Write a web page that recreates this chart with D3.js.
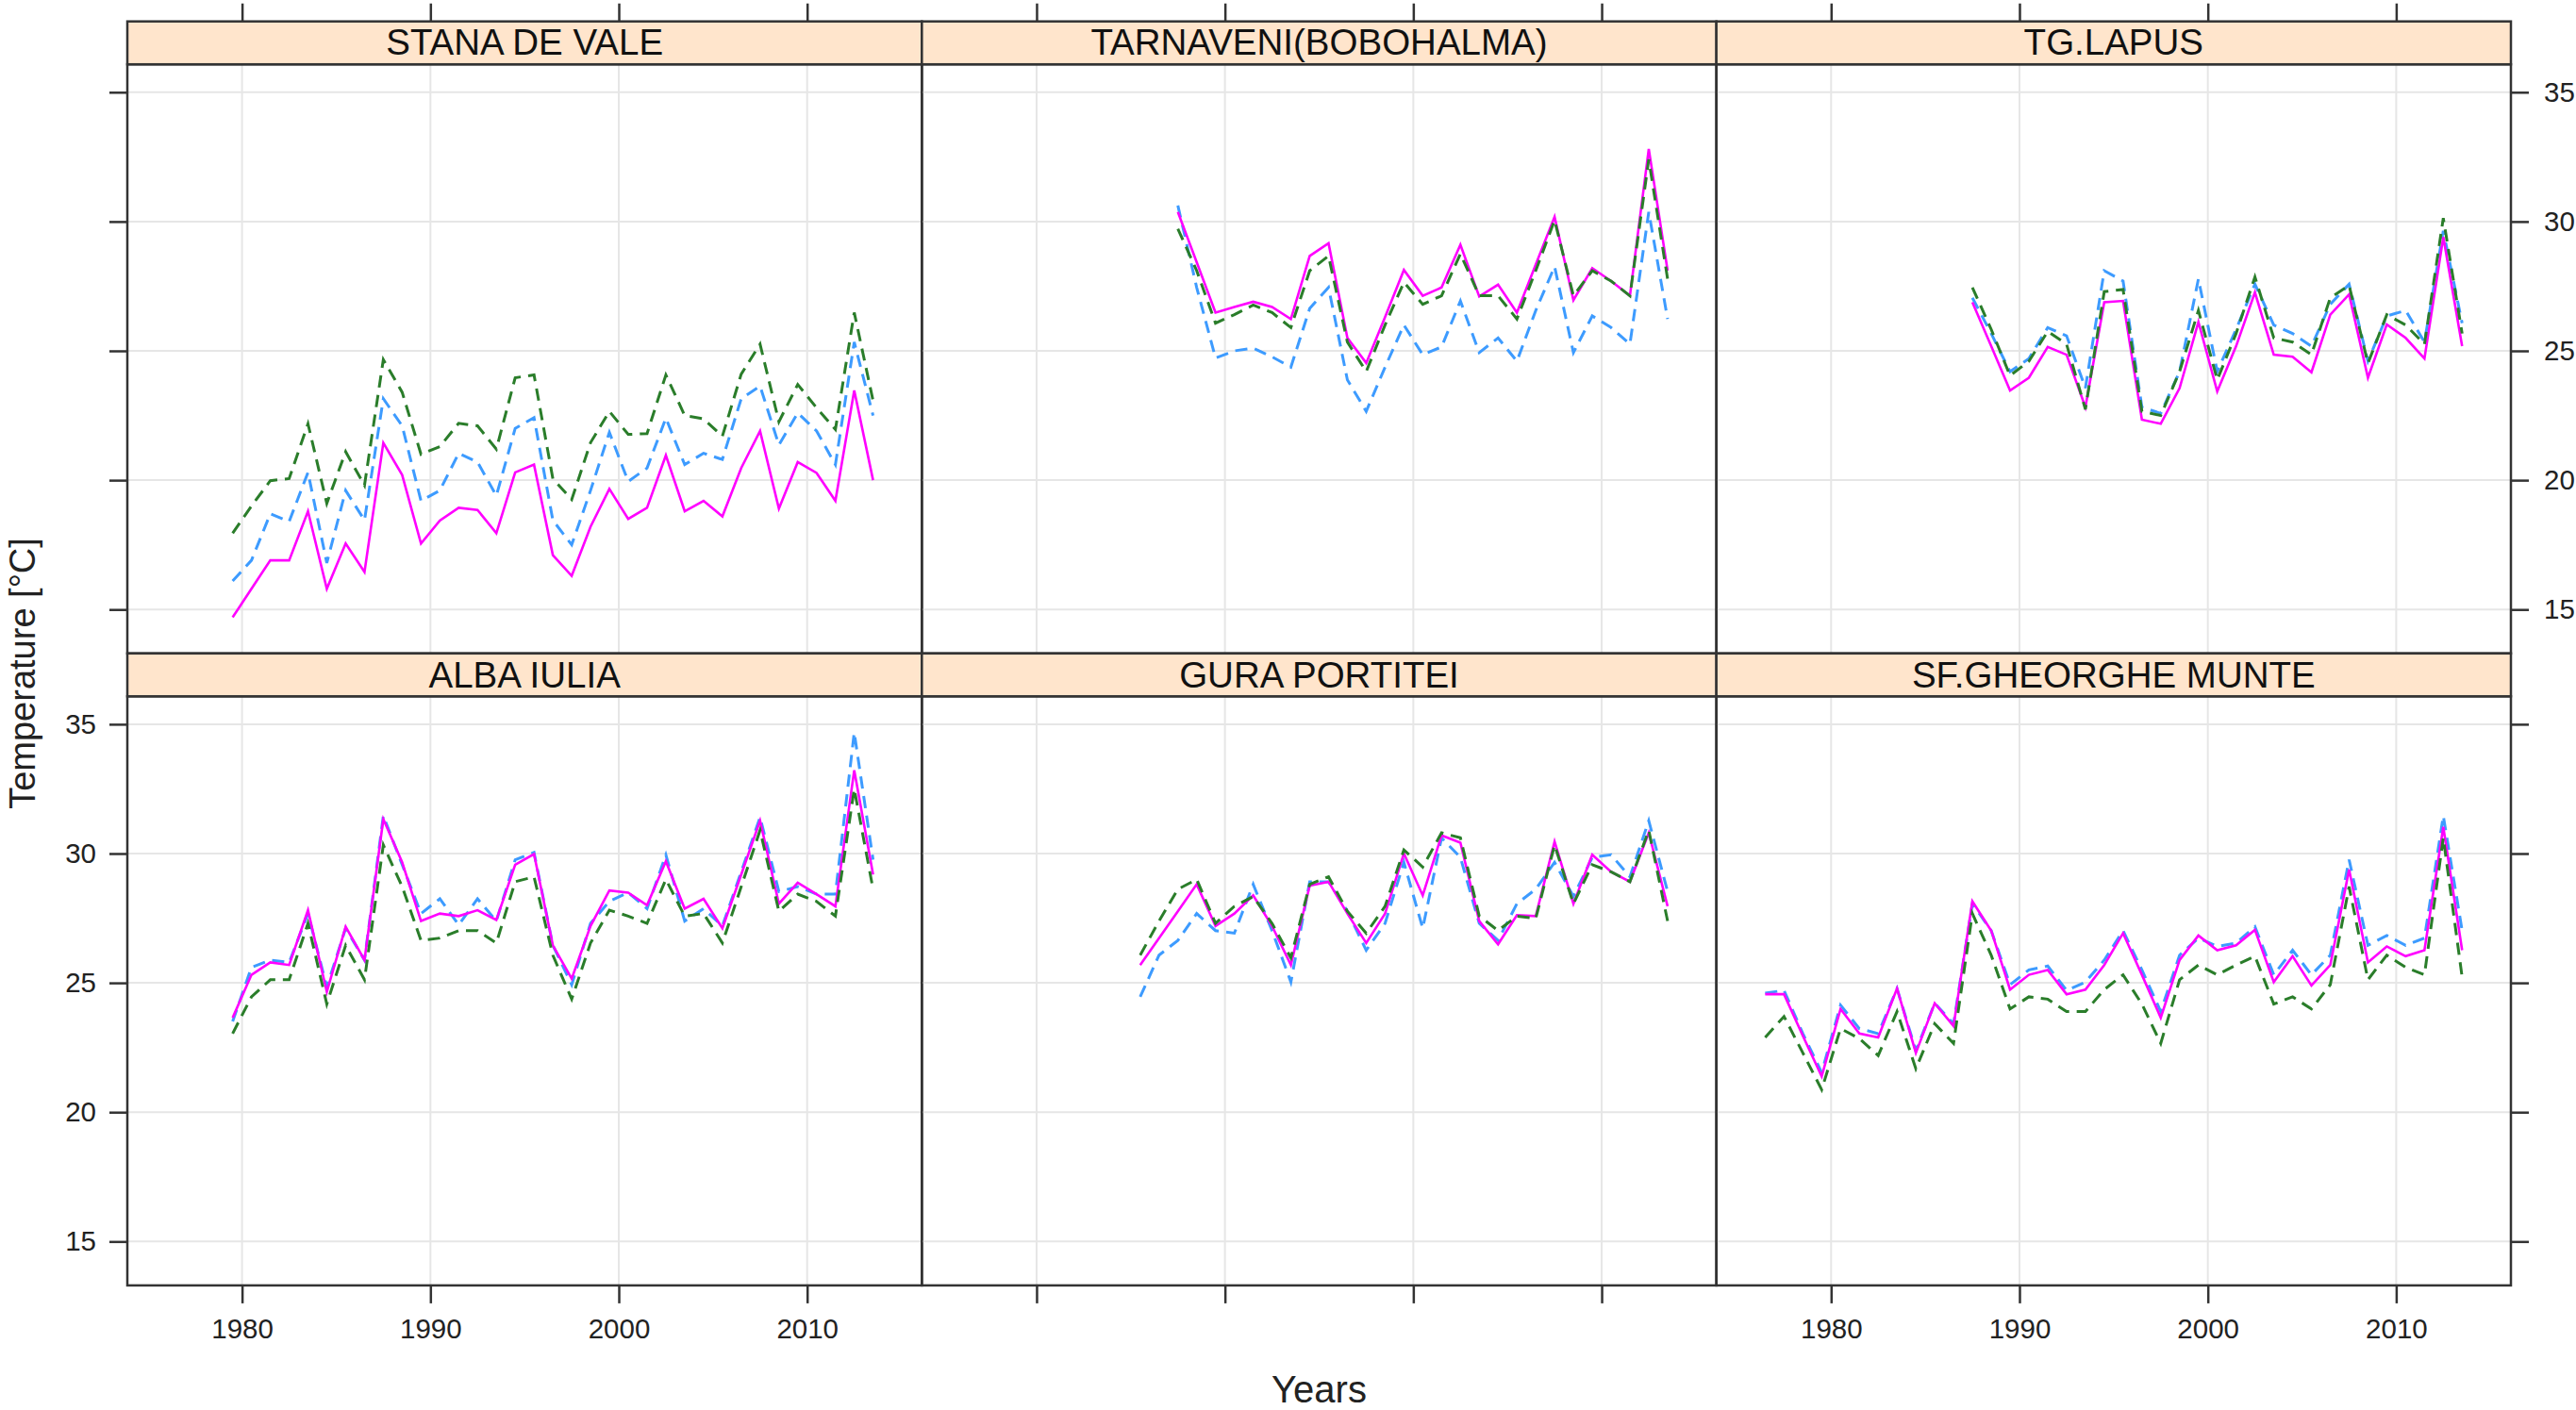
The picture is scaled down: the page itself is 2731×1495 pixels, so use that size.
<!DOCTYPE html>
<html>
<head>
<meta charset="utf-8">
<script src="https://d3js.org/d3.v7.min.js"></script>
<style>
body { margin: 0; background: #fff; }
text { font-family: "Liberation Sans", Arial, Helvetica, sans-serif; fill: #222; }
</style>
</head>
<body>
<div id="chart"></div>
<script>
// station names, panel order: top row then bottom row
const stations = ["STANA DE VALE", "TARNAVENI(BOBOHALMA)", "TG.LAPUS",
                  "ALBA IULIA", "GURA PORTITEI", "SF.GHEORGHE MUNTE"];
const firstYear = [1979, 1987, 1987, 1979, 1985, 1976];
const lastYear = 2013;

const xTicks = [1980, 1990, 2000, 2010];
const yTicks = [15, 20, 25, 30, 35];

// series (blue dashed, magenta solid, green dashed)
const stanaBlue = [16.1,16.9,18.7,18.4,20.3,16.8,19.6,18.45,23.15,22.1,19.2,19.6,21.04,20.7,19.4,22.0,22.42,18.45,17.5,19.6,21.85,19.95,20.47,22.4,20.6,21.04,20.8,23.15,23.64,21.36,22.6,21.9,20.6,25.34,22.5];
const stanaPink = [14.7,15.8,16.9,16.9,18.8,15.8,17.55,16.45,21.44,20.2,17.55,18.44,18.93,18.85,17.95,20.3,20.6,17.1,16.3,18.2,19.66,18.5,18.93,20.96,18.8,19.2,18.6,20.47,21.9,18.9,20.7,20.28,19.2,23.47,20.0];
const stanaGreen = [17.95,19.0,19.98,20.06,22.18,19.1,21.1,19.8,24.66,23.4,21.0,21.3,22.2,22.1,21.2,23.96,24.07,20.06,19.25,21.45,22.66,21.77,21.8,24.07,22.5,22.37,21.7,24.1,25.26,22.26,23.7,22.8,21.96,26.48,23.07];

const tarnBlue = [30.62,27.45,24.72,25.0,25.1,24.77,24.37,26.64,27.45,23.88,22.66,24.37,26.0,24.85,25.15,26.93,24.93,25.5,24.6,26.56,28.26,24.93,26.35,25.9,25.26,30.37,26.23];
const tarnPink = [30.37,28.43,26.48,26.7,26.9,26.7,26.23,28.67,29.16,25.5,24.53,26.3,28.13,27.13,27.45,29.1,27.1,27.56,26.48,28.34,30.18,26.96,28.2,27.7,27.13,32.81,28.1];
const tarnGreen = [29.72,28.1,26.07,26.4,26.77,26.48,25.9,28.1,28.67,25.34,24.2,26.0,27.65,26.8,27.13,28.75,27.13,27.13,26.23,28.1,30.05,27.13,28.1,27.7,27.13,32.4,27.78];

const lapusBlue = [27.05,25.67,24.2,24.7,25.9,25.58,23.56,28.1,27.7,22.82,22.58,24.2,27.78,24.2,25.83,27.58,26.0,25.67,25.18,26.8,27.58,24.6,26.35,26.56,25.34,29.64,26.07];
const lapusPink = [26.88,25.18,23.47,23.96,25.15,24.85,22.82,26.88,26.93,22.34,22.18,23.56,26.12,23.43,25.18,27.26,24.85,24.77,24.17,26.4,27.18,23.96,26.02,25.5,24.7,29.4,25.18];
const lapusGreen = [27.45,25.83,24.04,24.6,25.75,25.26,22.74,27.29,27.37,22.66,22.5,24.2,26.56,23.88,25.67,27.86,25.5,25.34,24.85,27.05,27.53,24.52,26.4,26.0,25.26,30.13,25.67];

const albaBlue = [23.51,25.6,25.88,25.79,27.68,24.84,27.11,25.88,31.46,29.57,27.68,28.25,27.24,28.25,27.39,29.76,30.04,26.45,24.93,27.3,28.15,28.49,27.87,29.95,27.39,27.87,27.2,29.29,31.4,28.53,28.72,28.43,28.43,34.68,29.76];
const albaPink = [23.65,25.31,25.79,25.69,27.81,24.65,27.17,25.88,31.33,29.66,27.39,27.68,27.58,27.81,27.43,29.57,29.98,26.45,25.16,27.2,28.57,28.49,28.0,29.7,27.87,28.25,27.11,29.19,31.27,28.06,28.87,28.43,27.96,33.22,29.19];
const albaGreen = [23.04,24.46,25.12,25.12,27.3,24.18,26.45,25.12,30.33,28.72,26.64,26.73,27.02,27.02,26.54,28.91,29.1,26.07,24.37,26.54,27.81,27.58,27.3,29.0,27.58,27.68,26.54,28.72,30.9,27.77,28.43,28.15,27.58,32.5,28.62];

const guraBlue = [24.46,26.07,26.64,27.68,27.02,26.92,28.81,27.02,25.03,28.91,28.91,27.77,26.26,27.3,29.66,27.11,30.61,29.85,27.3,26.64,28.06,28.62,29.66,28.34,29.85,29.95,29.1,31.27,28.53];
const guraPink = [25.69,26.73,27.77,28.81,27.2,27.68,28.38,27.2,25.69,28.76,28.91,27.68,26.54,27.68,30.0,28.38,30.7,30.42,27.39,26.49,27.62,27.58,30.46,28.06,29.95,29.29,28.91,30.8,27.96];
const guraGreen = [26.07,27.39,28.62,29.0,27.3,27.96,28.34,27.3,25.97,28.81,29.1,27.77,26.92,27.96,30.14,29.48,30.8,30.61,27.58,27.02,27.58,27.49,30.33,28.06,29.57,29.29,28.91,30.9,27.39];

const sfBlue = [24.6,24.71,23.04,21.53,24.14,23.23,23.04,24.78,22.38,24.21,23.42,28.06,27.02,24.93,25.5,25.65,24.71,25.03,25.88,27.02,25.5,23.89,26.07,26.73,26.41,26.54,27.17,25.31,26.26,25.31,26.07,29.76,26.45,26.83,26.45,26.73,31.46,27.02];
const sfPink = [24.56,24.56,22.95,21.38,23.99,23.04,22.89,24.78,22.29,24.21,23.33,28.15,27.02,24.74,25.31,25.5,24.56,24.74,25.69,26.92,25.31,23.65,25.88,26.83,26.26,26.45,27.05,25.03,26.03,24.9,25.69,29.38,25.79,26.41,26.03,26.26,31.03,26.26];
const sfGreen = [22.89,23.7,22.29,20.87,23.23,22.85,22.19,23.89,21.68,23.42,22.66,27.68,26.07,23.99,24.46,24.37,23.89,23.89,24.74,25.31,24.18,22.66,25.12,25.69,25.31,25.69,26.03,24.18,24.46,23.99,24.93,28.72,25.12,26.07,25.6,25.31,30.61,25.22];

const panelSeries = [
  [stanaBlue, stanaPink, stanaGreen],
  [tarnBlue, tarnPink, tarnGreen],
  [lapusBlue, lapusPink, lapusGreen],
  [albaBlue, albaPink, albaGreen],
  [guraBlue, guraPink, guraGreen],
  [sfBlue, sfPink, sfGreen]
];

const colors = ['#3d9bff', '#ff00ff', '#2a7d2a'];
const dashes = ['13,8', null, '13,8'];

const width = 2731, height = 1495;
const plotL = 135, plotR = 2662, plotT = 22.7;
const stripH = 45.5, panelH = 624.6;
const panelW = (plotR - plotL) / 3;

// yearly values are plotted at mid-year
const toX = yr => yr + 0.5;

// lattice-style padded domains
let allX = [], allY = [];
panelSeries.forEach((s, i) => {
  allX.push(toX(firstYear[i]), toX(lastYear));
  s.forEach(a => allY.push(...a));
});
function padded(ext) { let r = ext[1] - ext[0]; return [ext[0] - 0.07*r, ext[1] + 0.07*r]; }

const scaleX = d3.scaleLinear().domain(padded(d3.extent(allX))).range([0, panelW]);
const scaleY = d3.scaleLinear().domain(padded(d3.extent(allY))).range([panelH, 0]);

const svg = d3.select('#chart')
  .append('svg')
  .attr('width', width)
  .attr('height', height);

const line = d3.line().x(d => scaleX(d.x)).y(d => scaleY(d.y));

stations.forEach((name, i) => {
  const col = i % 3, row = Math.floor(i / 3);
  const px = plotL + col * panelW;
  const sy = plotT + row * (stripH + panelH);
  const py = sy + stripH;

  const g = svg.append('g').attr('transform', 'translate(' + px + ',' + py + ')');

  // grid
  g.selectAll('.gx').data(xTicks).enter().append('line')
    .attr('x1', d => scaleX(d)).attr('x2', d => scaleX(d))
    .attr('y1', 0).attr('y2', panelH)
    .style('stroke', '#e6e6e6').style('stroke-width', 2);
  g.selectAll('.gy').data(yTicks).enter().append('line')
    .attr('y1', d => scaleY(d)).attr('y2', d => scaleY(d))
    .attr('x1', 0).attr('x2', panelW)
    .style('stroke', '#e6e6e6').style('stroke-width', 2);

  // lines
  const years = d3.range(firstYear[i], lastYear + 1);
  panelSeries[i].forEach((vals, k) => {
    const pts = vals.map((v, j) => ({x: toX(years[j]), y: v}));
    g.append('path')
      .datum(pts)
      .attr('d', line)
      .style('fill', 'none')
      .style('stroke', colors[k])
      .style('stroke-width', k == 1 ? 2.6 : 3)
      .attr('stroke-dasharray', dashes[k]);
  });

  // frame
  g.append('rect').attr('x', 0).attr('y', 0).attr('width', panelW).attr('height', panelH)
    .style('fill', 'none').style('stroke', '#333').style('stroke-width', 2.5);

  // strip
  svg.append('rect').attr('x', px).attr('y', sy).attr('width', panelW).attr('height', stripH)
    .style('fill', '#ffe5cc').style('stroke', '#333').style('stroke-width', 2.5);
  svg.append('text')
    .attr('x', px + panelW / 2).attr('y', sy + stripH / 2 + 13)
    .style('text-anchor', 'middle').style('font-size', '38.5px').style('fill', '#111')
    .text(name);

  // axes
  let xAxisB = d3.axisBottom(scaleX).tickValues(xTicks).tickSize(19).tickPadding(16).tickFormat(d3.format('d'));
  let xAxisT = d3.axisTop(scaleX).tickValues(xTicks).tickSize(19).tickFormat('');
  let yAxisL = d3.axisLeft(scaleY).tickValues(yTicks).tickSize(19).tickPadding(14);
  let yAxisR = d3.axisRight(scaleY).tickValues(yTicks).tickSize(19).tickPadding(16);

  if (row == 1) {
    if (col != 1) {
      g.append('g').attr('class', 'axis').attr('transform', 'translate(0,' + panelH + ')').call(xAxisB);
    } else {
      g.append('g').attr('class', 'axis').attr('transform', 'translate(0,' + panelH + ')').call(xAxisB.tickFormat(''));
    }
    if (col == 0) g.append('g').attr('class', 'axis').call(yAxisL);
    if (col == 2) g.append('g').attr('class', 'axis').attr('transform', 'translate(' + panelW + ',0)').call(yAxisR.tickFormat(''));
  } else {
    g.append('g').attr('class', 'axis').attr('transform', 'translate(0,' + (-stripH) + ')').call(xAxisT);
    if (col == 0) g.append('g').attr('class', 'axis').call(yAxisL.tickFormat(''));
    if (col == 2) g.append('g').attr('class', 'axis').attr('transform', 'translate(' + panelW + ',0)').call(yAxisR);
  }
});

svg.selectAll('.axis .domain').remove();
svg.selectAll('.axis line').style('stroke', '#333').style('stroke-width', 2.5);
svg.selectAll('.axis text').style('font-size', '29.5px').style('fill', '#222')
  .style('font-family', '"Liberation Sans", Arial, sans-serif');

// axis titles
svg.append('text')
  .attr('x', (plotL + plotR) / 2).attr('y', 1487)
  .style('text-anchor', 'middle').style('font-size', '40px')
  .text('Years');

svg.append('text')
  .attr('transform', 'translate(37,714) rotate(-90)')
  .style('text-anchor', 'middle').style('font-size', '38px')
  .text('Temperature [°C]');
</script>
</body>
</html>
